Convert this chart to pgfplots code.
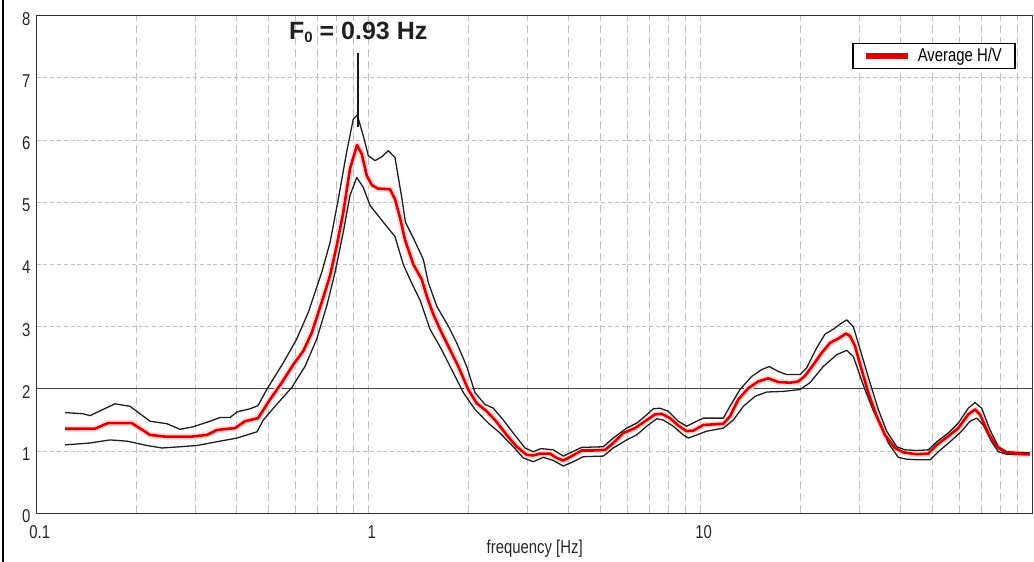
\documentclass[border=0pt]{standalone}
\usepackage{pgfplots}
\usepackage{pgfplotstable}
\pgfplotsset{compat=1.18}
\usepackage{fontspec}
\setmainfont{Liberation Sans}
\newfontfamily\narrow[FakeStretch=0.8]{Liberation Sans}
\definecolor{hvred}{RGB}{222,0,0}
\definecolor{halo}{RGB}{255,215,215}
\definecolor{gridgray}{RGB}{192,192,192}
\definecolor{curveblk}{RGB}{30,30,30}

\pgfplotstableread{
f v
0.1217 1.36
0.1498 1.36
0.1640 1.45
0.1936 1.45
0.2195 1.26
0.2469 1.23
0.2895 1.23
0.3258 1.26
0.3492 1.34
0.3957 1.37
0.4241 1.48
0.4641 1.53
0.5044 1.83
0.5470 2.10
0.5926 2.39
0.6353 2.61
0.6734 2.90
0.7217 3.39
0.7647 3.82
0.8009 4.30
0.8385 4.84
0.8783 5.54
0.9222 5.92
0.9526 5.78
0.9863 5.43
1.021 5.28
1.067 5.22
1.159 5.21
1.200 5.05
1.243 4.75
1.286 4.40
1.363 4.00
1.445 3.76
1.496 3.49
1.565 3.20
1.659 2.90
1.758 2.63
1.862 2.36
1.995 1.99
2.115 1.77
2.267 1.64
2.401 1.50
2.604 1.26
2.792 1.07
2.992 0.94
3.132 0.93
3.281 0.96
3.517 0.96
3.684 0.89
3.856 0.85
4.088 0.92
4.381 1.01
4.749 1.01
5.149 1.02
5.453 1.13
5.847 1.29
6.340 1.37
6.796 1.48
7.283 1.59
7.630 1.60
8.081 1.53
8.560 1.41
9.073 1.32
9.500 1.33
10.18 1.42
11.70 1.44
12.25 1.56
12.98 1.83
13.91 2.01
14.91 2.12
15.98 2.17
17.13 2.11
18.58 2.10
19.68 2.12
20.62 2.21
21.84 2.39
23.15 2.58
24.52 2.74
25.97 2.81
27.40 2.89
28.17 2.85
29.16 2.69
30.19 2.40
31.97 1.94
33.89 1.56
35.90 1.26
38.48 1.05
40.75 0.98
44.74 0.95
48.47 0.96
51.39 1.10
55.69 1.24
59.69 1.37
63.97 1.59
67.01 1.67
69.38 1.59
73.51 1.29
77.92 1.07
82.53 0.98
89.49 0.96
98.15 0.95
}\avgtable

\pgfplotstableread{
f v
0.1217 1.62
0.1378 1.60
0.1447 1.57
0.1721 1.76
0.1910 1.72
0.2195 1.48
0.2469 1.44
0.2702 1.35
0.2956 1.39
0.3327 1.48
0.3565 1.54
0.3822 1.54
0.4012 1.63
0.4391 1.68
0.4641 1.73
0.4930 1.99
0.5531 2.42
0.6067 2.80
0.6578 3.23
0.7217 3.87
0.7647 4.35
0.8098 5.05
0.8584 5.81
0.8986 6.34
0.9241 6.40
0.9632 6.07
0.9972 5.75
1.045 5.67
1.094 5.73
1.146 5.83
1.200 5.72
1.260 5.05
1.290 4.68
1.370 4.40
1.461 4.08
1.512 3.71
1.603 3.33
1.737 3.01
1.841 2.74
1.974 2.36
2.090 1.94
2.240 1.75
2.373 1.69
2.543 1.50
2.726 1.29
2.957 1.05
3.132 0.99
3.300 1.04
3.600 1.02
3.856 0.92
4.381 1.06
5.089 1.07
5.453 1.21
5.986 1.37
6.415 1.45
6.796 1.56
7.198 1.68
7.540 1.69
7.987 1.64
8.560 1.48
9.073 1.40
9.727 1.48
10.18 1.53
11.70 1.53
12.25 1.72
13.13 1.99
14.24 2.20
15.27 2.31
16.09 2.36
17.13 2.28
18.16 2.23
19.91 2.23
20.86 2.34
22.36 2.66
23.68 2.88
25.09 2.96
26.28 3.04
27.54 3.11
28.82 3.00
30.55 2.55
32.35 2.10
34.27 1.67
36.33 1.32
38.94 1.07
41.25 1.02
44.74 1.01
48.47 1.02
51.39 1.15
55.69 1.29
59.69 1.45
63.97 1.69
67.01 1.78
70.21 1.69
74.38 1.34
78.79 1.07
83.51 0.99
98.15 0.97
}\uptable

\pgfplotstableread{
f v
0.1217 1.10
0.1447 1.13
0.1663 1.18
0.1871 1.16
0.2149 1.09
0.2384 1.05
0.2702 1.07
0.3039 1.09
0.3565 1.16
0.4012 1.21
0.4609 1.31
0.4814 1.50
0.5222 1.72
0.5861 2.02
0.6428 2.36
0.6972 2.80
0.7472 3.33
0.7916 3.87
0.8385 4.52
0.8783 5.11
0.9203 5.40
0.9632 5.24
1.009 4.95
1.107 4.68
1.200 4.45
1.271 4.00
1.348 3.70
1.430 3.42
1.530 2.96
1.659 2.63
1.798 2.26
1.928 1.94
2.090 1.67
2.292 1.45
2.486 1.29
2.726 1.07
2.923 0.89
3.132 0.83
3.357 0.90
3.597 0.85
3.856 0.76
4.134 0.83
4.430 0.91
5.089 0.92
5.453 1.05
5.986 1.18
6.415 1.26
6.876 1.40
7.370 1.52
7.714 1.50
8.269 1.40
8.862 1.26
9.176 1.21
9.727 1.26
10.42 1.32
11.70 1.37
12.54 1.50
13.44 1.72
14.58 1.88
15.81 1.95
17.74 1.96
19.91 1.99
21.34 2.10
23.40 2.36
25.68 2.55
27.54 2.62
28.82 2.52
30.89 2.06
33.11 1.65
35.48 1.34
36.74 1.13
39.37 0.90
41.74 0.87
45.23 0.86
49.06 0.86
51.97 0.99
56.35 1.15
61.11 1.32
64.72 1.48
67.81 1.53
71.00 1.42
75.26 1.15
78.79 0.99
83.51 0.95
98.15 0.94
}\lowtable

\begin{document}
\begin{tikzpicture}
\begin{axis}[
  at={(0,0)}, anchor=south west,
  scale only axis, width=498pt, height=248.8pt,
  xmode=log, xmin=0.1, xmax=100, ymin=0, ymax=8,
  xtick={0.1,1,10}, xticklabels={0.1,1,10},
  minor xtick={0.2,0.3,0.4,0.5,0.6,0.7,0.8,0.9,2,3,4,5,6,7,8,9,20,30,40,50,60,70,80,90},
  ytick={0,1,2,3,4,5,6,7,8}, yticklabels={0,1,2,3,4,5,6,7,8},
  major tick length=0pt, minor tick length=0pt,
  xmajorgrids, xminorgrids, ymajorgrids,
  x grid style={gridgray, line width=0.5pt, dash pattern=on 4pt off 2pt},
  y grid style={gridgray, line width=0.5pt, dash pattern=on 2pt off 1.4pt},
  axis line style={black!80, line width=0.7pt},
  tick label style={font=\narrow\fontsize{9.3}{11}\selectfont, text=black!85},
  xticklabel style={anchor=base, yshift=-12.5pt, xshift=1.5pt},
  yticklabel style={anchor=east, inner sep=0pt, xshift=-3pt, yshift=-1.5pt},
  xlabel={frequency [Hz]},
  xlabel style={at={(axis description cs:0.5,0)}, anchor=base, yshift=-20pt, font=\narrow\fontsize{9.3}{11}\selectfont, text=black!85},
  legend style={at={(1,1)}, anchor=north east, xshift=-8.6pt, yshift=-13.5pt,
    draw=black, line width=0.6pt, fill=white, inner xsep=5pt, inner ysep=0.7pt,
    nodes={inner sep=1.5pt},
    font=\narrow\fontsize{9.3}{11}\selectfont, legend cell align=left},
  legend image code/.code={\draw[hvred, line width=2.6pt] (0pt,0pt) -- (21pt,0pt); \path (24pt,0pt);},
]
\addplot[forget plot, black!75, line width=0.5pt] coordinates {(0.1,2) (100,2)};
\addplot[forget plot, halo, line width=3.2pt, line join=round] table[x=f,y=v] {\avgtable};
\addplot[forget plot, curveblk, line width=0.65pt, line join=round] table[x=f,y=v] {\uptable};
\addplot[forget plot, curveblk, line width=0.65pt, line join=round] table[x=f,y=v] {\lowtable};
\addplot[hvred, line width=1.3pt, line join=round] table[x=f,y=v] {\avgtable};
\addlegendentry{Average H/V}
\draw[black!90, line width=1pt] (axis cs:0.93,7.40) -- (axis cs:0.93,6.21);
\node[anchor=base, font=\bfseries\fontsize{12.5}{14}\selectfont, text=black!88] at (axis cs:0.93,7.62) {F\raisebox{-0.25ex}{\fontsize{7.5}{8}\selectfont 0} = 0.93 Hz};
\end{axis}
\draw[black, line width=1.3pt] (-16.85pt,-24.35pt) -- (-16.85pt,256.65pt);
\pgfresetboundingbox
\useasboundingbox (-18.35pt,-24.35pt) rectangle (498.65pt,256.65pt);
\end{tikzpicture}
\end{document}
